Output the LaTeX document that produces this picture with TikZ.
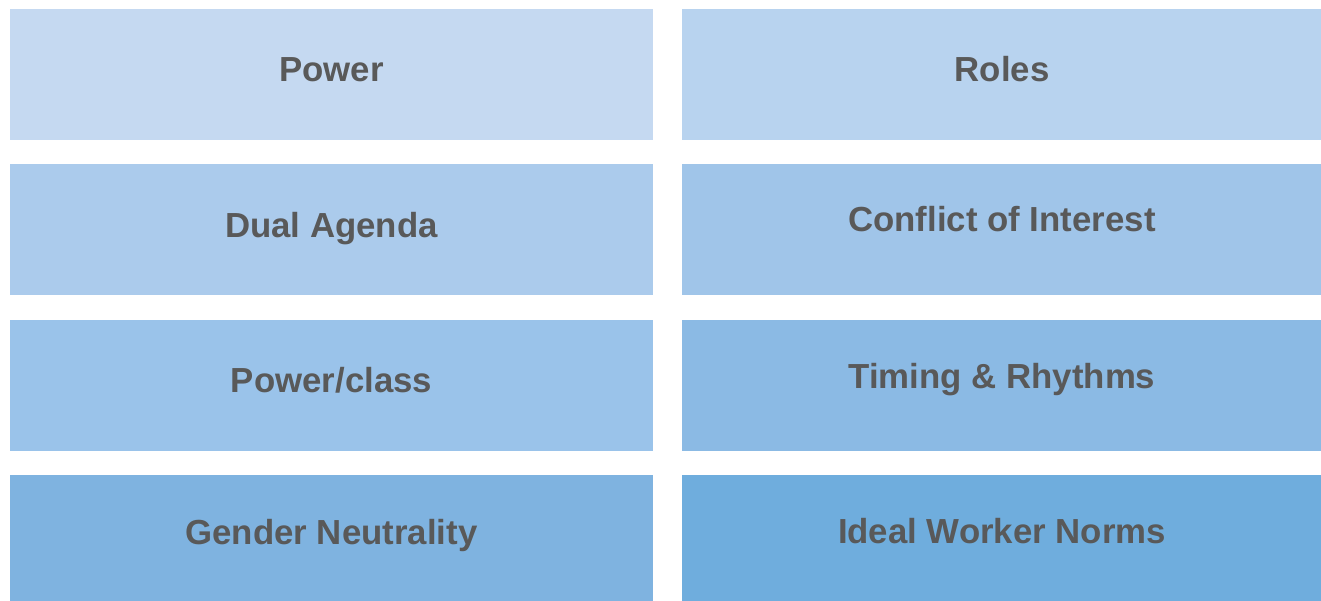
\documentclass[tikz,border=0pt]{standalone}
\usepackage{fontspec}
\setmainfont{Liberation Sans}
\definecolor{tileA}{HTML}{C5D9F1}
\definecolor{tileB}{HTML}{B8D3EF}
\definecolor{tileC}{HTML}{ABCBEC}
\definecolor{tileD}{HTML}{A0C5E9}
\definecolor{tileE}{HTML}{9AC3EA}
\definecolor{tileF}{HTML}{8BBAE4}
\definecolor{tileG}{HTML}{7FB3E0}
\definecolor{tileH}{HTML}{6FADDD}
\definecolor{tiletext}{HTML}{595959}
\begin{document}
\begin{tikzpicture}[x=0.02cm, y=-0.02cm,
        tile/.style={rectangle, draw=none, inner sep=0pt},
        wide/.style={tile, minimum width=12.86cm},
        narrow/.style={tile, minimum width=12.78cm},
        label/.style={anchor=base, text=tiletext, font=\fontsize{19.8}{23}\selectfont\bfseries}
    ]
    \useasboundingbox (0,0) rectangle (1321,601);
    % tiles
    \node[wide, fill=tileA, minimum height=2.62cm] (power) at (331.5,74.5) {};
    \node[narrow, fill=tileB, minimum height=2.62cm] (roles) at (1001.5,74.5) {};
    \node[wide, fill=tileC, minimum height=2.62cm] (dual) at (331.5,229.5) {};
    \node[narrow, fill=tileD, minimum height=2.62cm] (conflict) at (1001.5,229.5) {};
    \node[wide, fill=tileE, minimum height=2.62cm] (class) at (331.5,385.5) {};
    \node[narrow, fill=tileF, minimum height=2.62cm] (timing) at (1001.5,385.5) {};
    \node[wide, fill=tileG, minimum height=2.52cm] (gender) at (331.5,538) {};
    \node[narrow, fill=tileH, minimum height=2.52cm] (ideal) at (1001.5,538) {};
    % labels
    \node[label] (powerT) at (331.5,82) {Power};
    \node[label] (rolesT) at (1002,82) {Roles};
    \node[label] (dualT) at (331.5,237) {Dual Agenda};
    \node[label] (conflictT) at (1002,232) {Conflict of Interest};
    \node[label] (classT) at (331.5,392) {Power/class};
    \node[label] (timingT) at (1002,388) {Timing \& Rhythms};
    \node[label] (genderT) at (331.5,544) {Gender Neutrality};
    \node[label] (idealT) at (1002,543) {Ideal Worker Norms};
\end{tikzpicture}
\end{document}
